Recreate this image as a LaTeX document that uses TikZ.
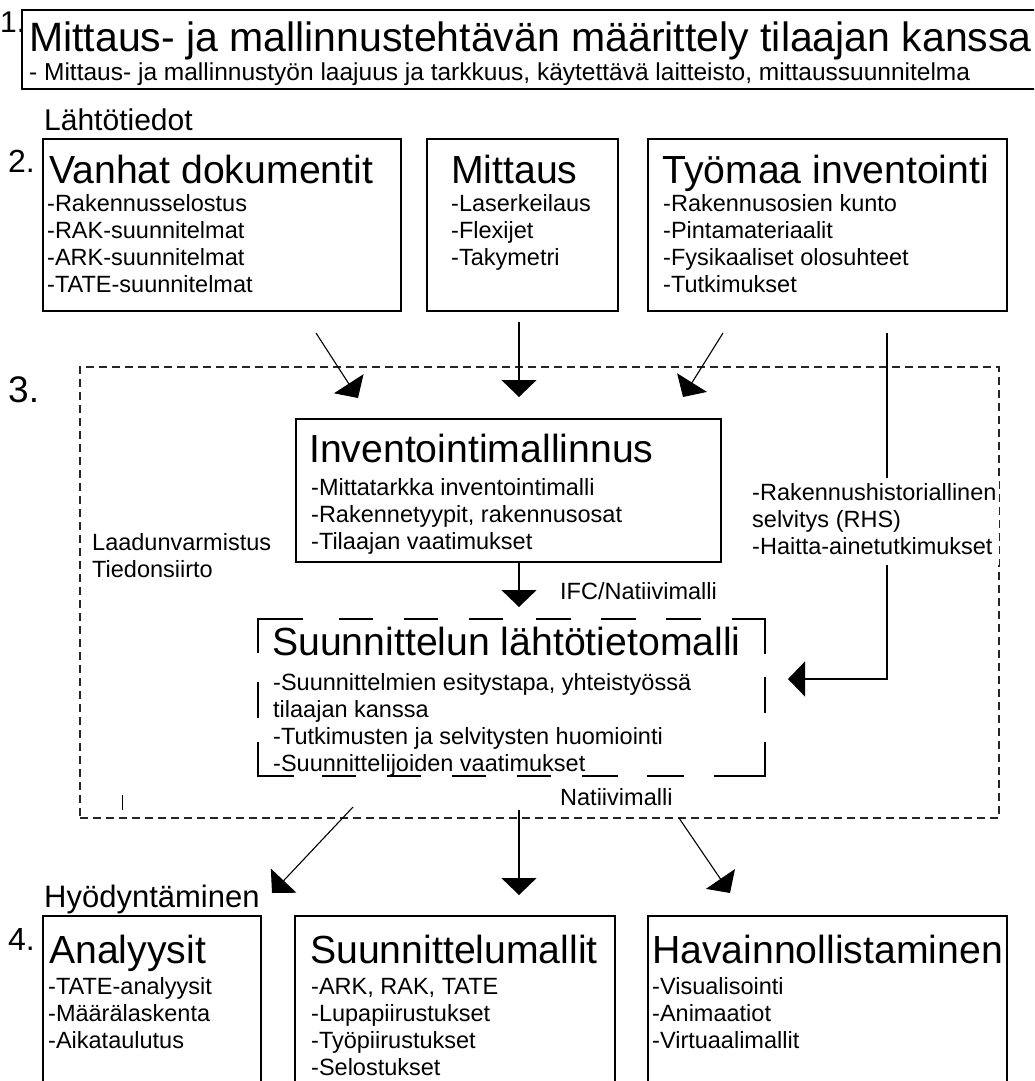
\documentclass[tikz,border=0pt]{standalone}
\usepackage{fontspec}
\setmainfont{Liberation Sans}
\usetikzlibrary{arrows.meta}
\newcommand{\mylines}[1]{\begin{tabular}[t]{@{}l@{}}#1\end{tabular}}
\begin{document}
\begin{tikzpicture}[x=1pt,y=-1pt,
  box/.style={draw, line width=2.2pt, rectangle, inner sep=0pt},
  ttl/.style={anchor=base west, inner sep=0pt, font=\fontsize{39.2}{44}\selectfont},
  lst/.style={anchor=base west, inner sep=0pt, font=\fontsize{23.5}{27}\selectfont},
  num/.style={anchor=base west, inner sep=0pt},
  arr/.style={line width=1.1pt, -{Triangle[length=17pt,width=35pt]}},
  dbox/.style={line width=2pt, line cap=rect},
]
\useasboundingbox (0,0) rectangle (1034,1081);
\fill[white] (0,0) rectangle (1034,1081);
\clip (0,0) rectangle (1034,1081);

% ---- boxes ----
\node[box, line width=2.5pt, minimum width=1018pt, minimum height=79pt] (b1) at (531,49.5) {};
\node[box, minimum width=358pt, minimum height=172pt] (vanhat) at (222,225) {};
\node[box, minimum width=191pt, minimum height=172pt] (mittaus) at (522.5,225) {};
\node[box, minimum width=359pt, minimum height=172pt] (tyomaa) at (827.5,225) {};
\node[draw=black!85, line width=1.1pt, dash pattern=on 8pt off 5pt, minimum width=919pt, minimum height=451pt, inner sep=0pt] (outer) at (539.5,592.5) {};
\node[box, minimum width=425pt, minimum height=143pt] (inv) at (508.5,490.5) {};
\node[inner sep=0pt, minimum width=507pt, minimum height=157pt] (suun) at (511.5,697.5) {};
\node[box, line width=2pt, minimum width=218pt, minimum height=174pt] (analyysit) at (152,1003) {};
\node[box, line width=2pt, minimum width=320pt, minimum height=174pt] (smallit) at (455,1003) {};
\node[box, line width=2pt, minimum width=359pt, minimum height=174pt] (havain) at (827.5,1003) {};

% dashed border of the design base model
\draw[dbox] (258,652) -- (258,619) -- (302,619);
\draw[dbox] (733,619) -- (765,619) -- (765,653);
\draw[dbox] (765,743) -- (765,776) -- (715,776);
\draw[dbox] (293,776) -- (258,776) -- (258,743);
\foreach \a/\b in {340/372,405/437,470/502,537/570,602/635,667/700} \draw[dbox] (\a,619) -- (\b,619);
\foreach \a/\b in {323/355,388/420,453/485,518/550,583/617,648/683} \draw[dbox] (\a,776) -- (\b,776);
\draw[dbox] (258,683) -- (258,717);
\draw[dbox] (765,678) -- (765,712);

% ---- connector end points ----
\coordinate (a1s) at (316,333);  \coordinate (a1e) at (358,398);
\coordinate (a2s) at (519,322);  \coordinate (a2e) at (519,397);
\coordinate (a3s) at (723,333);  \coordinate (a3e) at (683,397);
\coordinate (a4s) at (519,562);  \coordinate (a4e) at (519,607);
\coordinate (rhsA) at (887,333); \coordinate (rhsB) at (788,679);
\coordinate (b1s) at (353,807);  \coordinate (b1e) at (272,893);
\coordinate (b2s) at (519,810);  \coordinate (b2e) at (519,895);
\coordinate (b3s) at (679,818);  \coordinate (b3e) at (730,893);
\coordinate (tk1) at (122,795);  \coordinate (tk2) at (122,810);

\draw[arr] (a1s) -- (a1e);
\draw[arr, line width=1.4pt] (a2s) -- (a2e);
\draw[arr] (a3s) -- (a3e);
\draw[arr, line width=1.4pt] (a4s) -- (a4e);
\draw[arr] (rhsA) |- (rhsB);
\draw[arr] (b1s) -- (b1e);
\draw[arr, line width=1.4pt] (b2s) -- (b2e);
\draw[arr] (b3s) -- (b3e);
\draw[line width=1pt] (tk1) -- (tk2);

% ---- texts ----
\node[num, font=\fontsize{30}{30}\selectfont] (n1) at (0,33) {1.};
\node[ttl, font=\fontsize{41}{46}\selectfont] (t1) at (29,52) {Mittaus- ja mallinnustehtävän määrittely tilaajan kanssa};
\node[lst, font=\fontsize{24.5}{27}\selectfont] (s1) at (29,81) {- Mittaus- ja mallinnustyön laajuus ja tarkkuus, käytettävä laitteisto, mittaussuunnitelma};

\node[num, font=\fontsize{30}{30}\selectfont] (lah) at (44,130) {Lähtötiedot};
\node[num, font=\fontsize{32}{32}\selectfont] (n2) at (8,172) {2.};

\node[ttl] (tv) at (49,183) {Vanhat dokumentit};
\node[lst] (lv) at (47,211) {\mylines{-Rakennusselostus\\-RAK-suunnitelmat\\-ARK-suunnitelmat\\-TATE-suunnitelmat}};
\node[ttl] (tm) at (451,183) {Mittaus};
\node[lst] (lm) at (451,211) {\mylines{-Laserkeilaus\\-Flexijet\\-Takymetri}};
\node[ttl] (tt) at (662,183) {Työmaa inventointi};
\node[lst] (lt) at (663,211) {\mylines{-Rakennusosien kunto\\-Pintamateriaalit\\-Fysikaaliset olosuhteet\\-Tutkimukset}};

\node[num, font=\fontsize{37}{37}\selectfont] (n3) at (8,402) {3.};

\node[ttl] (ti) at (309,462) {Inventointimallinnus};
\node[lst] (li) at (311,495) {\mylines{-Mittatarkka inventointimalli\\-Rakennetyypit, rakennusosat\\-Tilaajan vaatimukset}};

\node[lst] (laad) at (92,550) {\mylines{Laadunvarmistus\\Tiedonsiirto}};
\node[lst] (ifc) at (560,599) {IFC/Natiivimalli};

\node[lst, fill=white, inner xsep=3pt, inner ysep=3pt] (rhs) at (749,500) {\mylines{-Rakennushistoriallinen\\selvitys (RHS)\\-Haitta-ainetutkimukset}};

\node[ttl] (ts) at (272,655) {Suunnittelun lähtötietomalli};
\node[lst] (ls) at (273,690) {\mylines{-Suunnittelmien esitystapa, yhteistyössä\\tilaajan kanssa\\-Tutkimusten ja selvitysten huomiointi\\-Suunnittelijoiden vaatimukset}};

\node[lst] (nat) at (560,805) {Natiivimalli};

\node[num, font=\fontsize{31}{31}\selectfont] (hyo) at (44,907) {Hyödyntäminen};
\node[num, font=\fontsize{32}{32}\selectfont] (n4) at (8,950) {4.};

\node[ttl] (ta) at (49,963) {Analyysit};
\node[lst] (la) at (48,994) {\mylines{-TATE-analyysit\\-Määrälaskenta\\-Aikataulutus}};
\node[ttl] (tsm) at (310,963) {Suunnittelumallit};
\node[lst] (lsm) at (311,994) {\mylines{-ARK, RAK, TATE\\-Lupapiirustukset\\-Työpiirustukset\\-Selostukset}};
\node[ttl] (th) at (652,963) {Havainnollistaminen};
\node[lst] (lh) at (652,994) {\mylines{-Visualisointi\\-Animaatiot\\-Virtuaalimallit}};
\end{tikzpicture}
\end{document}
